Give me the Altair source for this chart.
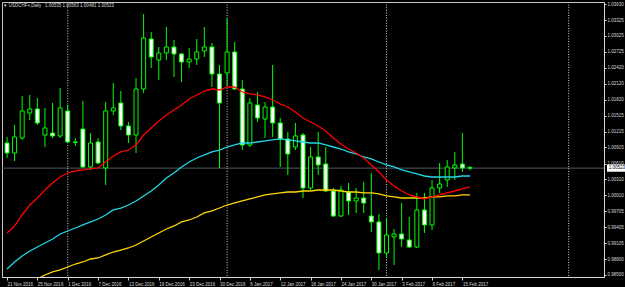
import json
import altair as alt
import pandas as pd

# ---- data (daily USDCHF+ candles, index = bar number) ----
opens = [1.00999, 1.00810, 1.01094, 1.01567, 1.01643, 1.01150, 1.01188, 1.01132, 1.01605, 1.01018,
         1.01264, 1.00545, 1.01018, 1.00526, 1.01605, 1.01756, 1.01321, 1.01150, 1.02021, 1.02968,
         1.02570, 1.02703, 1.02816, 1.02684, 1.02532, 1.02589, 1.02741, 1.02816, 1.02305, 1.02324,
         1.02722, 1.02021, 1.00961, 1.01718, 1.01453, 1.01680, 1.01378, 1.01075, 1.00923, 1.01150,
         1.00147, 1.00734, 1.00601, 1.00090, 0.99617, 1.00071, 0.99901, 0.99958, 0.99617, 0.99504,
         0.98917, 0.99220, 0.99276, 0.99163, 0.99030, 0.99731, 0.99447, 1.00147, 1.00299, 1.00526,
         1.00601, 1.00535]
highs = [1.01113, 1.01340, 1.01889, 1.01908, 1.01851, 1.01662, 1.01756, 1.02040, 1.01718, 1.01094,
         1.01794, 1.01188, 1.01094, 1.01775, 1.02135, 1.01983, 1.01397, 1.02229, 1.03441, 1.03100,
         1.02816, 1.03195, 1.02949, 1.02703, 1.02797, 1.02968, 1.03195, 1.02892, 1.02476, 1.03365,
         1.02911, 1.02192, 1.01851, 1.01964, 1.01775, 1.02476, 1.01472, 1.01207, 1.01378, 1.01188,
         1.00923, 1.01207, 1.00923, 1.00147, 1.00185, 1.00242, 1.00147, 1.00261, 1.00431, 0.99655,
         0.99579, 0.99371, 0.99863, 0.99598, 1.00053, 1.00053, 1.00299, 1.00620, 1.00677, 1.00829,
         1.01188, 1.00563]
lows = [1.00715, 1.00658, 1.01056, 1.01434, 1.01340, 1.00923, 1.01094, 1.01094, 1.00999, 1.00942,
        1.00526, 1.00488, 1.00601, 1.00204, 1.01529, 1.01245, 1.00999, 1.00810, 1.01946, 1.02419,
        1.02192, 1.02570, 1.02248, 1.02154, 1.02419, 1.02476, 1.02627, 1.02059, 1.00526, 1.02078,
        1.02002, 1.00866, 1.00923, 1.01397, 1.01094, 1.01113, 1.00545, 1.00393, 1.00866, 0.99958,
        1.00109, 1.00393, 1.00071, 0.99598, 0.99598, 0.99636, 0.99674, 0.99674, 0.99314, 0.98595,
        0.98822, 0.98690, 0.99030, 0.99011, 0.99011, 0.99295, 0.99352, 1.00053, 1.00166, 1.00299,
        1.00450, 1.00481]
closes = [1.00810, 1.01113, 1.01605, 1.01643, 1.01378, 1.01283, 1.01132, 1.01662, 1.01018, 1.01010,
          1.00545, 1.00999, 1.00620, 1.01605, 1.01662, 1.01321, 1.01150, 1.02021, 1.02987, 1.02627,
          1.02703, 1.02816, 1.02684, 1.02532, 1.02589, 1.02722, 1.02816, 1.02305, 1.01756, 1.02722,
          1.02021, 1.00961, 1.01756, 1.01472, 1.01680, 1.01378, 1.01075, 1.00791, 1.01132, 1.00147,
          1.00734, 1.00583, 1.00090, 0.99617, 1.00109, 0.99901, 0.99958, 0.99863, 0.99504, 0.98917,
          0.99257, 0.99276, 0.99182, 0.99030, 0.99731, 0.99447, 1.00147, 1.00223, 1.00545, 1.00583,
          1.00526, 1.00523]
ma_red = [0.99295, 0.99428, 0.99636, 0.99825, 0.99958, 1.00109, 1.00242, 1.00355, 1.00431, 1.00469,
          1.00488, 1.00507, 1.00526, 1.00639, 1.00753, 1.00829, 1.00866, 1.00961, 1.01150, 1.01283,
          1.01416, 1.01529, 1.01624, 1.01718, 1.01832, 1.01908, 1.01983, 1.02021, 1.02002, 1.02059,
          1.02059, 1.01964, 1.01927, 1.01908, 1.01870, 1.01813, 1.01737, 1.01680, 1.01586, 1.01472,
          1.01397, 1.01321, 1.01226, 1.01094, 1.00980, 1.00885, 1.00810, 1.00715, 1.00583, 1.00450,
          1.00299, 1.00185, 1.00090, 1.00015, 0.99977, 0.99939, 0.99977, 1.00015, 1.00053, 1.00090,
          1.00128, 1.00166]
ma_cyan = [0.98614, 0.98746, 0.98860, 0.98954, 0.99030, 0.99106, 0.99182, 0.99276, 0.99333, 0.99390,
           0.99447, 0.99504, 0.99560, 0.99636, 0.99731, 0.99768, 0.99825, 0.99901, 0.99996, 1.00090,
           1.00204, 1.00336, 1.00431, 1.00545, 1.00639, 1.00715, 1.00772, 1.00829, 1.00866, 1.00923,
           1.00961, 1.00999, 1.00999, 1.01018, 1.01037, 1.01056, 1.01075, 1.01056, 1.01037, 1.01018,
           1.00999, 1.00999, 1.00961, 1.00923, 1.00885, 1.00829, 1.00791, 1.00734, 1.00696, 1.00639,
           1.00583, 1.00545, 1.00488, 1.00450, 1.00412, 1.00374, 1.00355, 1.00355, 1.00355, 1.00355,
           1.00374, 1.00374]
ma_yellow = [0.98198, 0.98255, 0.98311, 0.98368, 0.98425, 0.98500, 0.98557, 0.98595, 0.98651, 0.98708,
             0.98746, 0.98803, 0.98822, 0.98879, 0.98935, 0.98973, 0.99011, 0.99068, 0.99144, 0.99220,
             0.99295, 0.99371, 0.99428, 0.99504, 0.99541, 0.99598, 0.99674, 0.99712, 0.99768, 0.99825,
             0.99863, 0.99901, 0.99939, 0.99977, 1.00015, 1.00034, 1.00053, 1.00071, 1.00071, 1.00090,
             1.00090, 1.00109, 1.00109, 1.00109, 1.00090, 1.00071, 1.00071, 1.00053, 1.00053, 1.00034,
             0.99996, 0.99977, 0.99958, 0.99958, 0.99958, 0.99958, 0.99977, 0.99977, 0.99996, 0.99996,
             1.00015, 1.00015]

date_ticks = [0, 4, 8, 12, 16, 20, 24, 28, 32, 36, 40, 44, 48, 52, 56, 60]
date_labels = ["21 Nov 2016", "25 Nov 2016", "1 Dec 2016", "7 Dec 2016", "13 Dec 2016",
               "19 Dec 2016", "23 Dec 2016", "30 Dec 2016", "6 Jan 2017", "12 Jan 2017",
               "18 Jan 2017", "24 Jan 2017", "30 Jan 2017", "3 Feb 2017", "9 Feb 2017",
               "15 Feb 2017"]
price_ticks = [1.03630, 1.03325, 1.03025, 1.02725, 1.02420, 1.02120, 1.01820, 1.01515, 1.01215,
               1.00915, 1.00610, 1.00310, 1.00010, 0.99705, 0.99405, 0.99105, 0.98800, 0.98500]
separators = [8, 29, 50, 74]
bid = 1.00523
header = "\u25BC USDCHF+,Daily\u00a0\u00a0 1.00535 1.00563 1.00481 1.00523"

FONT = "Liberation Sans"
FS = 4.5
LIME = "#00ff00"
FG = "#d8d8d8"

df = pd.DataFrame({"i": list(range(len(opens))), "o": opens, "h": highs, "l": lows, "c": closes,
                   "red": ma_red, "cyan": ma_cyan, "yellow": ma_yellow})
sep_df = pd.DataFrame({"sep": separators})
bid_df = pd.DataFrame({"bid": [bid], "txt": ["%.5f" % bid]})
head_df = pd.DataFrame({"t": [header]})

xscale = alt.Scale(domain=[0, 78], nice=False, zero=False)
yscale = alt.Scale(domain=[0.98462, 1.03668], nice=False, zero=False)

label_expr = "%s[indexof(%s, datum.value)]" % (json.dumps(date_labels), json.dumps(date_ticks))
xaxis = alt.Axis(values=date_ticks, labelExpr=label_expr, labelAlign="left", labelBaseline="top",
                 labelPadding=1, labelFont=FONT, labelFontSize=FS, labelColor=FG, tickColor=FG,
                 tickSize=3, domainColor=FG, grid=False, labelOverlap=False, labelFlush=False,
                 labelBound=False, title=None)
yaxis = alt.Axis(orient="right", values=price_ticks, format=".5f", labelFont=FONT, labelFontSize=FS,
                 labelColor=FG, labelPadding=1, tickSize=2, tickColor=FG, domainColor=FG,
                 grid=False, labelOverlap=False, labelFlush=False, labelBound=False, title=None)

base = alt.Chart(df)

bidline = alt.Chart(bid_df).mark_rule(color="#4e5868", strokeWidth=1).encode(
    y=alt.Y("bid:Q", scale=yscale, axis=yaxis))

seps = alt.Chart(sep_df).mark_rule(color="#cfcfcf", strokeWidth=1, strokeDash=[1, 1.6]).encode(
    x=alt.X("sep:Q", scale=xscale, axis=xaxis))

wicks = base.mark_rule(color=LIME, strokeWidth=1).encode(
    x=alt.X("i:Q", scale=xscale, axis=xaxis),
    y=alt.Y("l:Q", scale=yscale, axis=yaxis), y2="h:Q")

bodies = base.mark_bar(size=4, stroke=LIME, strokeWidth=1).encode(
    x=alt.X("i:Q", scale=xscale, axis=xaxis),
    y=alt.Y("o:Q", scale=yscale, axis=yaxis), y2="c:Q",
    fill=alt.condition("datum.c >= datum.o", alt.value("black"), alt.value("white")))

def ma(field, color):
    return base.mark_line(color=color, strokeWidth=1.3, clip=True).encode(
        x=alt.X("i:Q", scale=xscale, axis=xaxis),
        y=alt.Y(field + ":Q", scale=yscale, axis=yaxis))

box = alt.Chart(bid_df).mark_point(
    shape="M-1,-0.36L1,-0.36L1,0.36L-1,0.36Z", size=400, filled=True, fill="white",
    opacity=1, clip=False).encode(
    x=alt.value(615), y=alt.Y("bid:Q", scale=yscale, axis=yaxis))
boxtxt = alt.Chart(bid_df).mark_text(font=FONT, fontSize=FS, color="black", align="center",
                                      baseline="middle", clip=False).encode(
    x=alt.value(615), y=alt.Y("bid:Q", scale=yscale, axis=yaxis), text="txt:N")

head = alt.Chart(head_df).mark_text(font=FONT, fontSize=FS, color=FG, align="left",
                                     baseline="middle").encode(
    x=alt.value(1), y=alt.value(3.5), text="t:N")

chart = alt.layer(bidline, seps, wicks, bodies, ma("yellow", "#ffd700"), ma("cyan", "#20d8e8"),
                  ma("red", "#ff0000"), box, boxtxt, head).properties(
    width=602, height=275,
    autosize=alt.AutoSizeParams(type="none"),
    padding={"left": 2, "top": 2, "right": 21, "bottom": 10},
    background="black",
).configure_view(stroke="#c8c8c8", strokeWidth=1, fill="black")

chart.save("out.html", embed_options={"renderer": "svg", "actions": False})
